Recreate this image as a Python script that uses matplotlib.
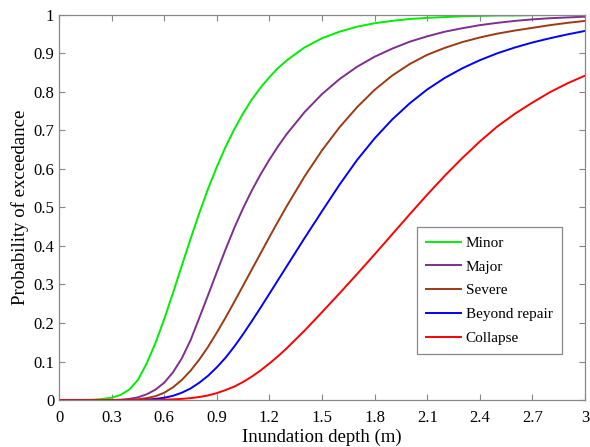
import matplotlib
matplotlib.use("Agg")
import matplotlib.pyplot as plt

# Inundation depth (m) and probability of exceedance
depth = [0.0, 0.1, 0.2, 0.25, 0.3, 0.35, 0.4, 0.45, 0.5, 0.55, 0.6, 0.65, 0.7, 0.75,
         0.8, 0.85, 0.9, 0.95, 1.0, 1.05, 1.1, 1.15, 1.2, 1.25, 1.3, 1.4, 1.5, 1.6,
         1.7, 1.8, 1.9, 2.0, 2.1, 2.2, 2.3, 2.4, 2.5, 2.6, 2.7, 2.8, 2.9, 3.0]

minor = [0.0, 0.0, 0.001, 0.003, 0.006, 0.013, 0.027, 0.052, 0.095, 0.148, 0.21, 0.278,
         0.348, 0.418, 0.485, 0.548, 0.605, 0.657, 0.703, 0.744, 0.78, 0.811, 0.838,
         0.862, 0.882, 0.915, 0.939, 0.956, 0.969, 0.978, 0.984, 0.989, 0.992, 0.994,
         0.996, 0.997, 0.998, 0.998, 0.999, 0.999, 1.0, 1.0]

major = [0.0, 0.0, 0.0, 0.0, 0.0, 0.001, 0.003, 0.007, 0.015, 0.027, 0.045, 0.072,
         0.108, 0.155, 0.213, 0.272, 0.332, 0.391, 0.447, 0.498, 0.544, 0.586, 0.624,
         0.659, 0.691, 0.747, 0.794, 0.833, 0.865, 0.891, 0.912, 0.93, 0.944, 0.956,
         0.965, 0.973, 0.979, 0.984, 0.988, 0.991, 0.993, 0.995]

severe = [0.0, 0.0, 0.0, 0.0, 0.0, 0.0, 0.0, 0.002, 0.005, 0.01, 0.019, 0.033,
          0.052, 0.076, 0.105, 0.138, 0.175, 0.214, 0.255, 0.297, 0.339, 0.381, 0.423,
          0.464, 0.504, 0.58, 0.648, 0.708, 0.76, 0.805, 0.842, 0.872, 0.896, 0.914,
          0.929, 0.941, 0.951, 0.959, 0.966, 0.973, 0.979, 0.984]

beyond_repair = [0.0, 0.0, 0.0, 0.0, 0.0, 0.0, 0.0, 0.0, 0.001, 0.003, 0.006, 0.011,
                 0.019, 0.03, 0.045, 0.063, 0.085, 0.11, 0.139, 0.171, 0.205, 0.24,
                 0.276, 0.312, 0.348, 0.42, 0.49, 0.559, 0.623, 0.679, 0.728, 0.77,
                 0.806, 0.836, 0.861, 0.882, 0.9, 0.915, 0.928, 0.939, 0.949, 0.958]

collapse = [0.0, 0.0, 0.0, 0.0, 0.0, 0.0, 0.0, 0.0, 0.0, 0.0, 0.001, 0.002, 0.003,
            0.005, 0.008, 0.012, 0.018, 0.026, 0.035, 0.047, 0.061, 0.077, 0.095,
            0.114, 0.135, 0.18, 0.228, 0.277, 0.327, 0.378, 0.43, 0.482, 0.533,
            0.582, 0.628, 0.671, 0.71, 0.743, 0.772, 0.799, 0.822, 0.842]

series = [("Minor", minor, "#00ee00"),
          ("Major", major, "#7e2f8e"),
          ("Severe", severe, "#9c3a12"),
          ("Beyond repair", beyond_repair, "#0000ff"),
          ("Collapse", collapse, "#ff0000")]

x_ticks = [0, 0.3, 0.6, 0.9, 1.2, 1.5, 1.8, 2.1, 2.4, 2.7, 3]
x_labels = ["0", "0.3", "0.6", "0.9", "1.2", "1.5", "1.8", "2.1", "2.4", "2.7", "3"]
y_ticks = [0, 0.1, 0.2, 0.3, 0.4, 0.5, 0.6, 0.7, 0.8, 0.9, 1]
y_labels = ["0", "0.1", "0.2", "0.3", "0.4", "0.5", "0.6", "0.7", "0.8", "0.9", "1"]

plt.rcParams["font.family"] = ["Liberation Serif", "DejaVu Serif"]

fig = plt.figure(figsize=(5.9, 4.47), dpi=100)
ax = fig.add_axes([0.1, 0.105, 0.8915, 0.862])

for name, vals, color in series:
    ax.plot(depth, vals, color=color, lw=1.4, label=name)

ax.set_xlim(0, 3)
ax.set_ylim(0, 1)
ax.set_xticks(x_ticks)
ax.set_xticklabels(x_labels)
ax.set_yticks(y_ticks)
ax.set_yticklabels(y_labels)
ax.tick_params(axis="x", pad=7)
ax.tick_params(direction="in", top=True, right=True, length=4, width=0.8,
               color="#888888", labelsize=12)
for spine in ax.spines.values():
    spine.set_color("#888888")
    spine.set_linewidth(0.9)

ax.set_xlabel("Inundation depth (m)", fontsize=13.5, labelpad=2)
ax.set_ylabel("Probability of exceedance", fontsize=13.5, labelpad=3)

leg = ax.legend(loc="lower right", bbox_to_anchor=(0.956, 0.119), borderaxespad=0,
                fontsize=11, handlelength=2.3, handletextpad=0.3, labelspacing=0.66,
                borderpad=0.6, fancybox=False, framealpha=1, edgecolor="#888888")
leg.get_frame().set_linewidth(0.9)

fig.savefig("out.png", dpi=100)
